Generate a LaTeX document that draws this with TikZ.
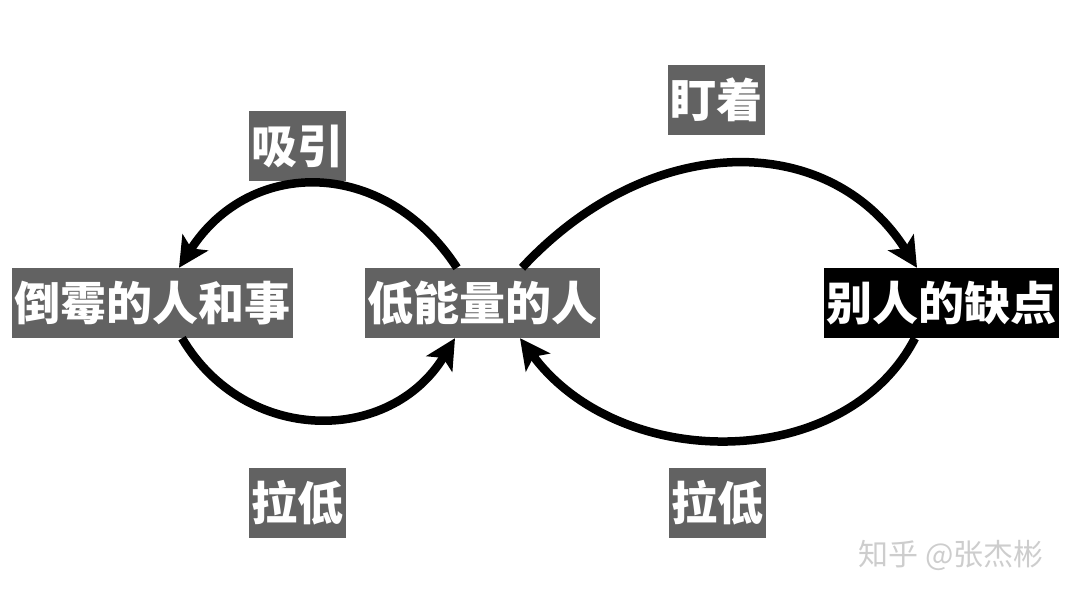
\documentclass[tikz,border=0pt]{standalone}
\usepackage{fontspec}
\newfontfamily\cjk{Noto Sans CJK SC}
\usetikzlibrary{arrows.meta,calc}
\definecolor{boxgray}{RGB}{98,98,98}
\definecolor{wmgray}{RGB}{205,205,205}
\tikzset{
  tag/.style={fill=boxgray,text=white,font=\cjk\bfseries\fontsize{46}{50}\selectfont,
    inner xsep=2.5pt,inner ysep=0pt,minimum height=70pt,anchor=center},
  darktag/.style={tag,fill=black},
  link/.style={line width=8.5pt,-{Stealth[length=30pt,width=30pt,inset=7pt]}},
}
\begin{document}
\begin{tikzpicture}[x=1pt,y=-1pt]
\useasboundingbox (0,0) rectangle (1080,600);
\node[tag] (bad) at (152.5,303) {倒霉的人和事};
\node[tag] (low) at (482,303) {低能量的人};
\node[darktag] (flaw) at (941,303) {别人的缺点};
\node[tag] (xiyin) at (297.5,146) {吸引};
\node[tag] (ding) at (716,100) {盯着};
\node[tag] (la1) at (297.5,502.5) {拉低};
\node[tag] (la2) at (717,502.5) {拉低};
\node[text=wmgray,font=\cjk\fontsize{30}{32}\selectfont,anchor=center] (wm) at (951,555) {知乎 @张杰彬};
% arrows
\draw[link] ($(low.north)+(-25,0)$) .. controls (385,157) and (250,157) .. ($(bad.north)+(26.5,0)$);
\draw[link] ($(bad.south)+(29.5,0)$) .. controls (245,445) and (390,445) .. ($(low.south)+(-27,0)$);
\draw[link] ($(low.north)+(40,0)$) .. controls (650,130) and (830,130) .. ($(flaw.north)+(-24,0)$);
\draw[link] ($(flaw.south)+(-26,0)$) .. controls (845,473) and (620,473) .. ($(low.south)+(38,0)$);
\end{tikzpicture}
\end{document}
